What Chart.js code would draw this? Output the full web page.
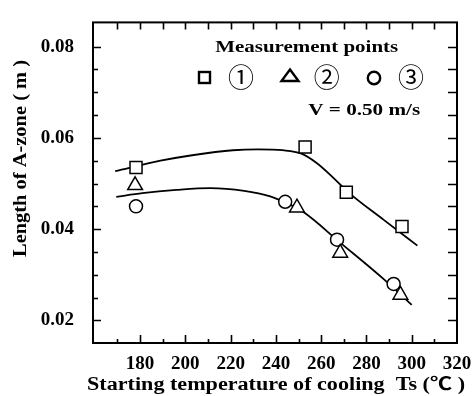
<!DOCTYPE html>
<html>
<head>
<meta charset="utf-8">
<script src="https://cdn.jsdelivr.net/npm/chart.js@4.4.0/dist/chart.umd.min.js"></script>
<style>
  html, body { margin: 0; padding: 0; background: #fff; }
</style>
</head>
<body>
<canvas id="grafica" width="475" height="396"></canvas>
<script>
// ejes
const ticksX = [180, 200, 220, 240, 260, 280, 300, 320];
const ticksY = [0.02, 0.04, 0.06, 0.08];

// puntos de medida 1, 2 y 3 (Ts en °C, longitud en m)
const tempPunto1 = [178.2, 252.9, 271.1, 295.7];
const largoPunto1 = [0.0535, 0.058, 0.0481, 0.0406];
const tempPunto2 = [177.8, 249.3, 268.4, 295.0];
const largoPunto2 = [0.0496, 0.0447, 0.0348, 0.0256];
const tempPunto3 = [178.2, 244.1, 267.0, 292.0];
const largoPunto3 = [0.045, 0.046, 0.0377, 0.028];

// curvas de ajuste
const tempCurvaSup = [169, 189, 203, 221, 232, 243, 251, 258, 265.5, 271.5, 287.5, 302.5];
const largoCurvaSup = [0.0527, 0.055, 0.0562, 0.0573, 0.0575, 0.0573, 0.0566, 0.0545, 0.0512, 0.0483, 0.0421, 0.0364];
const tempCurvaInf = [169.5, 181, 196, 211, 226, 237.5, 243.5, 252, 268.5, 287.5, 300];
const largoCurvaInf = [0.0471, 0.0479, 0.0486, 0.049, 0.0484, 0.0472, 0.046, 0.0438, 0.037, 0.0291, 0.0234];

const fuente = '"Liberation Serif", "Noto Sans CJK JP", serif';

function pares(xs, ys) {
  return xs.map((x, i) => ({ x: x, y: ys[i] }));
}

// texto ajustado a un ancho dado
function texto(ctx, str, x, y, ancho, size) {
  ctx.font = `bold ${size}px ${fuente}`;
  const w = ctx.measureText(str).width;
  ctx.save();
  ctx.translate(x, y);
  ctx.scale(ancho / w, 1);
  ctx.textAlign = 'center';
  ctx.fillText(str, 0, 0);
  ctx.restore();
}

const marcoPlugin = {
  id: 'marco',
  afterDatasetsDraw(chart) {
    const { ctx, chartArea: a, scales: { x, y } } = chart;
    ctx.save();
    ctx.strokeStyle = '#000';
    ctx.fillStyle = '#000';
    ctx.lineWidth = 2;
    ctx.strokeRect(a.left, a.top, a.right - a.left, a.bottom - a.top);

    ctx.lineWidth = 1.6;
    ctx.beginPath();
    for (let t = 170; t < 320; t += 10) {
      const px = Math.round(x.getPixelForValue(t)) + 0.5;
      ctx.moveTo(px, a.bottom);
      ctx.lineTo(px, a.bottom - (t % 20 === 0 ? 8 : 4));
      ctx.moveTo(px, a.top);
      ctx.lineTo(px, a.top + 7);
    }
    for (let k = 4; k <= 16; k++) {
      const py = Math.round(y.getPixelForValue(k * 0.005)) + 0.5;
      ctx.moveTo(a.left, py);
      ctx.lineTo(a.left + (k % 4 === 0 ? 8 : 5), py);
      ctx.moveTo(a.right, py);
      ctx.lineTo(a.right - 9, py);
    }
    ctx.stroke();

    // titulos
    ctx.textBaseline = 'alphabetic';
    texto(ctx, 'Starting temperature of cooling  Ts (℃ )', 276, 389.5, 378, 18);
    ctx.save();
    ctx.translate(25.5, 158.5);
    ctx.rotate(-Math.PI / 2);
    texto(ctx, 'Length of A-zone ( m )', 0, 0, 197, 18);
    ctx.restore();

    // leyenda
    texto(ctx, 'Measurement points', 306.7, 51.7, 183, 17.5);
    texto(ctx, 'V = 0.50 m/s', 364.2, 115, 112, 17.5);

    ctx.lineWidth = 2.4;
    ctx.strokeRect(199, 72, 11, 11);
    ctx.beginPath();
    ctx.moveTo(290, 69.5);
    ctx.lineTo(298.5, 81);
    ctx.lineTo(281.5, 81);
    ctx.closePath();
    ctx.stroke();
    ctx.beginPath();
    ctx.arc(374, 78, 6.2, 0, Math.PI * 2);
    ctx.stroke();
    ctx.font = `26px "Noto Sans CJK JP", sans-serif`;
    ctx.textAlign = 'center';
    ctx.textBaseline = 'middle';
    ctx.fillText('①', 241, 77);
    ctx.fillText('②', 326.7, 77);
    ctx.fillText('③', 411, 77);
    ctx.restore();
  }
};

const marcador = {
  showLine: false,
  borderColor: '#000',
  backgroundColor: '#fff',
  pointBackgroundColor: '#fff',
  pointBorderColor: '#000',
  pointBorderWidth: 1.5
};

const curva = {
  showLine: true,
  borderColor: '#000',
  borderWidth: 1.8,
  pointRadius: 0,
  tension: 0.4,
  cubicInterpolationMode: 'monotone',
  fill: false
};

const configuracion = {
  type: 'scatter',
  data: {
    datasets: [
      { ...marcador, data: pares(tempPunto1, largoPunto1), pointStyle: 'rect', pointRadius: 8.5 },
      { ...marcador, data: pares(tempPunto2, largoPunto2), pointStyle: 'triangle', pointRadius: 8.5 },
      { ...marcador, data: pares(tempPunto3, largoPunto3), pointStyle: 'circle', pointRadius: 6.5 },
      { ...curva, data: pares(tempCurvaSup, largoCurvaSup) },
      { ...curva, data: pares(tempCurvaInf, largoCurvaInf) }
    ]
  },
  options: {
    responsive: false,
    animation: false,
    devicePixelRatio: 1,
    layout: { padding: { top: 16, right: 18, left: 0, bottom: 0 } },
    plugins: { legend: { display: false }, tooltip: { enabled: false } },
    scales: {
      x: {
        type: 'linear',
        min: 159.2,
        max: 320,
        grid: { display: false },
        border: { display: false },
        afterBuildTicks: (s) => { s.ticks = ticksX.map((v) => ({ value: v })); },
        afterFit: (s) => { s.height = 53; },
        ticks: {
          padding: 2,
          color: '#000',
          maxRotation: 0,
          font: { family: fuente, weight: 'bold', size: 19 }
        }
      },
      y: {
        type: 'linear',
        min: 0.01506,
        max: 0.08531,
        grid: { display: false },
        border: { display: false },
        afterBuildTicks: (s) => { s.ticks = ticksY.map((v) => ({ value: v })); },
        afterFit: (s) => { s.width = 93; },
        ticks: {
          padding: 11,
          color: '#000',
          font: { family: fuente, weight: 'bold', size: 19 },
          callback: (v) => v.toFixed(2)
        }
      }
    }
  },
  plugins: [marcoPlugin]
};

const grafica = new Chart(document.querySelector('#grafica'), configuracion);
</script>
</body>
</html>
